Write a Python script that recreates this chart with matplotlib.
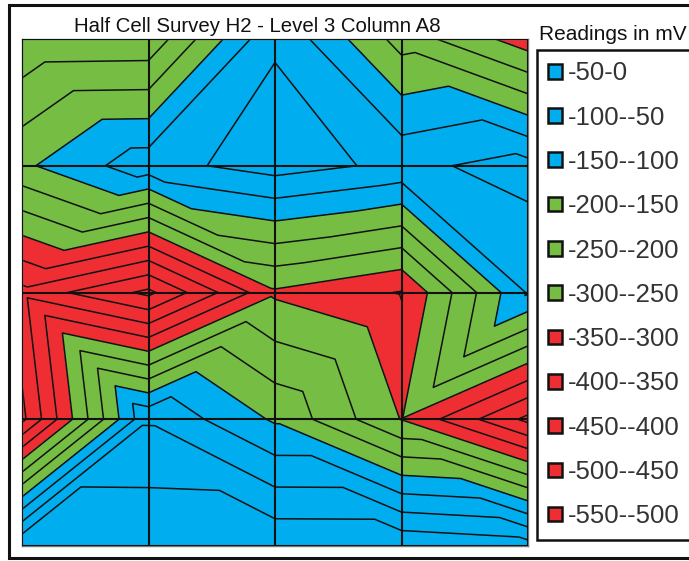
import numpy as np
import matplotlib
matplotlib.use('Agg')
import matplotlib.pyplot as plt
import matplotlib.tri as mtri
from matplotlib.patches import Patch, Rectangle

plt.rcParams['font.family'] = ['Liberation Sans', 'DejaVu Sans']

W, H = 689, 561

# grid positions of the survey (columns / rows, row 0 at the top)
columns = [0, 1, 2, 3, 4]
rows = [0, 1, 2, 3, 4]

# readings in mV
row_0 = [-290, -287, -55, -220, -328]
row_1 = [-160, -69, -28, -62, -32]
row_2 = [-415, -512, -308, -353, -95]
row_3 = [-463, -55, -157, -302, -463]
row_4 = [48, 47, 43, 42, 23]

levels = [-550, -500, -450, -400, -350, -300, -250, -200, -150, -100, -50, 0]
labels = ['-50-0', '-100--50', '-150--100', '-200--150', '-250--200', '-300--250',
          '-350--300', '-400--350', '-450--400', '-500--450', '-550--500']

blue = '#00aeef'
green = '#76bd43'
red = '#ee2e33'
legend_colors = [blue] * 3 + [green] * 3 + [red] * 5

Z = np.array([row_0, row_1, row_2, row_3, row_4], dtype=float)

# each grid cell is split into 4 triangles around its centre,
# centre value = the larger of the two diagonal means (fits the kinks in the chart)
n_c, n_r = len(columns), len(rows)
xs, ys, zs, tris = [], [], [], []
for r in rows:
    for c in columns:
        xs.append(c)
        ys.append(r)
        zs.append(Z[r, c])
for r in rows[:-1]:
    for c in columns[:-1]:
        a, b = r * n_c + c, r * n_c + c + 1
        d, e = (r + 1) * n_c + c, (r + 1) * n_c + c + 1
        m = len(xs)
        xs.append(c + 0.5)
        ys.append(r + 0.5)
        zs.append(max((Z[r, c] + Z[r + 1, c + 1]) / 2, (Z[r, c + 1] + Z[r + 1, c]) / 2))
        tris += [[a, b, m], [b, e, m], [e, d, m], [d, a, m]]
tri = mtri.Triangulation(xs, ys, tris)

fig = plt.figure(figsize=(W / 100, H / 100), dpi=100)

# outer frame
bg = fig.add_axes([0, 0, 1, 1])
bg.set_xlim(0, W)
bg.set_ylim(H, 0)
bg.axis('off')
bg.add_patch(Rectangle((9, 5), W, 553, fc='white', ec='#111111', lw=2.2))

ax = fig.add_axes([22 / W, 1 - 546 / H, 506 / W, 507 / H])
# the top band above 0 mV stays blue as in the survey chart
fill_levels = levels + [60]
fill_colors = legend_colors[::-1] + [blue]
ax.tricontourf(tri, zs, levels=fill_levels, colors=fill_colors)
ax.tricontour(tri, zs, levels=levels, colors='#111111', linewidths=1.1, linestyles='solid')
ax.set_xlim(0, 4)
ax.set_ylim(4, 0)
ax.set_xticks(columns)
ax.set_yticks(rows)
ax.set_xticklabels([])
ax.set_yticklabels([])
ax.tick_params(length=0)
ax.grid(color='#111111', lw=1.5)
ax.set_axisbelow(False)
for s in ax.spines.values():
    s.set_color('#777777')
    s.set_linewidth(1.0)

fig.text(257 / W, 1 - 26 / H, 'Half Cell Survey H2 - Level 3 Column A8', ha='center', va='center', fontsize=14.7, color='#111111')
fig.text(539 / W, 1 - 34 / H, 'Readings in mV', ha='left', va='center', fontsize=15, color='#111111')

handles = [Patch(fc=c, ec='#111111', lw=1.8) for c in legend_colors]
leg = fig.legend(handles, labels, loc='upper left', bbox_to_anchor=(537 / W, 1 - 50 / H),
                 borderaxespad=0, frameon=True, fancybox=False, edgecolor='#111111',
                 fontsize=18.5, labelcolor='#333333', handlelength=0.55, handleheight=0.5,
                 handletextpad=0.2, labelspacing=0.79, borderpad=0.44)
leg.get_frame().set_linewidth(1.8)
leg.get_frame().set_alpha(1)

fig.savefig('out.png', dpi=100)
